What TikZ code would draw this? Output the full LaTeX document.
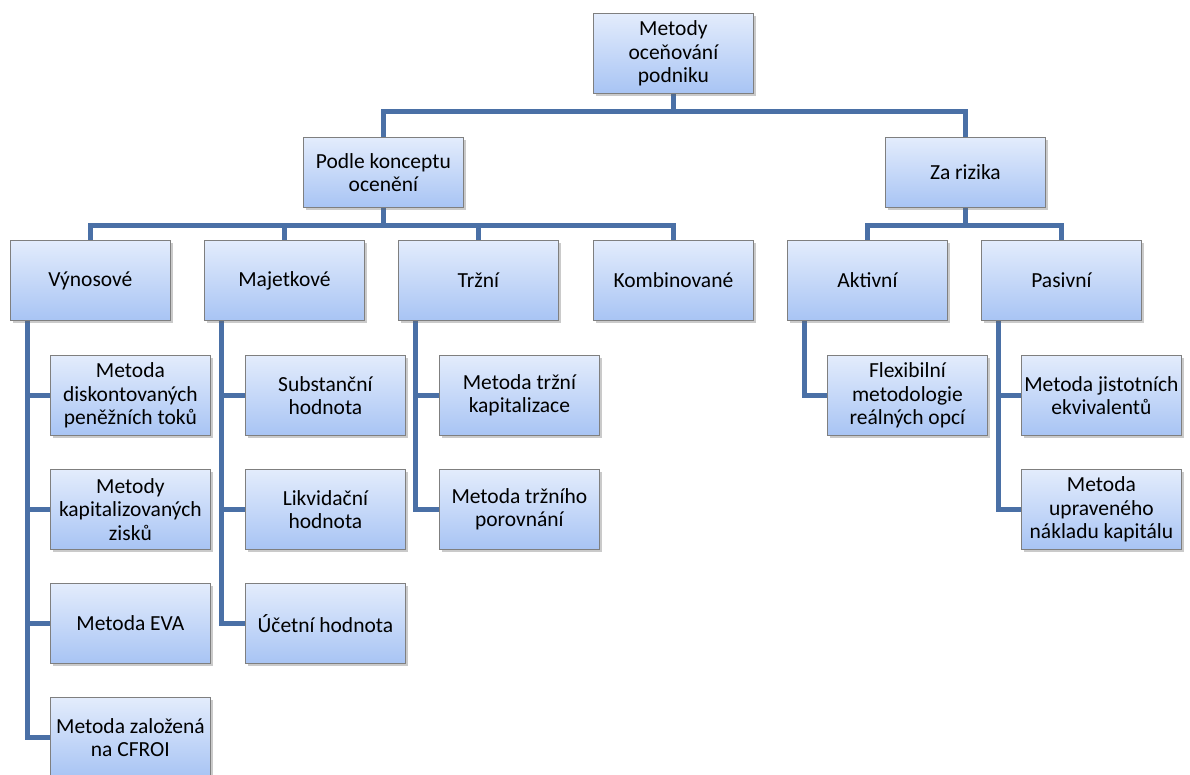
\documentclass[tikz,border=0pt]{standalone}
\usepackage{fontspec}
\setmainfont{Carlito}
\usetikzlibrary{shadows,backgrounds,calc}
\definecolor{boxtop}{HTML}{E3ECFC}
\definecolor{boxbot}{HTML}{A8C4F4}
\definecolor{boxline}{HTML}{7F7F7F}
\definecolor{connclr}{HTML}{4A70A6}
\tikzset{
  orgbox/.style={draw=boxline, line width=0.8pt, top color=boxtop, bottom color=boxbot,
    minimum width=160pt, minimum height=80pt, inner sep=2pt, anchor=north west,
    align=center, font=\fontsize{21.5}{23.5}\selectfont,
    drop shadow={opacity=0.35, shadow xshift=2.5pt, shadow yshift=-2.5pt, fill=black!60}},
  shortbox/.style={orgbox, minimum height=70pt},
  conn/.style={draw=connclr, line width=5pt, line join=miter}
}
\begin{document}
\begin{tikzpicture}[x=1pt,y=1pt]
\useasboundingbox (0,0) rectangle (1190,-774);
% top level
\node[orgbox] (root) at (593,-13) {Metody\\oceňování\\podniku};
\node[shortbox] (podle) at (303,-137) {Podle konceptu\\ocenění};
\node[shortbox] (za) at (885,-137) {Za rizika};
% second level
\node[orgbox] (vyn) at (10,-240) {Výnosové};
\node[orgbox] (maj) at (204,-240) {Majetkové};
\node[orgbox] (trz) at (398,-240) {Tržní};
\node[orgbox] (komb) at (593,-240) {Kombinované};
\node[orgbox] (akt) at (787,-240) {Aktivní};
\node[orgbox] (pas) at (981,-240) {Pasivní};
% income methods
\node[orgbox] (v1) at (50,-355) {Metoda\\diskontovaných\\peněžních toků};
\node[orgbox] (v2) at (50,-469) {Metody\\kapitalizovaných\\zisků};
\node[orgbox] (v3) at (50,-583) {Metoda EVA};
\node[orgbox] (v4) at (50,-697) {Metoda založená\\na CFROI};
% asset methods
\node[orgbox] (m1) at (245,-355) {Substanční\\hodnota};
\node[orgbox] (m2) at (245,-469) {Likvidační\\hodnota};
\node[orgbox] (m3) at (245,-583) {Účetní hodnota};
% market methods
\node[orgbox] (t1) at (439,-355) {Metoda tržní\\kapitalizace};
\node[orgbox] (t2) at (439,-469) {Metoda tržního\\porovnání};
% risk methods
\node[orgbox] (a1) at (827,-355) {Flexibilní\\metodologie\\reálných opcí};
\node[orgbox] (p1) at (1021,-355) {Metoda jistotních\\ekvivalentů};
\node[orgbox] (p2) at (1021,-469) {Metoda\\upraveného\\nákladu kapitálu};
\begin{scope}[on background layer]
  % buses
  \coordinate (b1) at (0,-111);
  \coordinate (b2) at (0,-225);
  \draw[conn] (root.south) -- (root.south |- b1);
  \draw[conn] (podle.north) |- (root.south |- b1) -| (za.north);
  \draw[conn] (podle.south) -- (podle.south |- b2);
  \draw[conn] (vyn.north) |- (komb.north |- b2) -- (komb.north);
  \draw[conn] (maj.north) -- (maj.north |- b2);
  \draw[conn] (trz.north) -- (trz.north |- b2);
  \draw[conn] (za.south) -- (za.south |- b2);
  \draw[conn] (akt.north) |- (pas.north |- b2) -- (pas.north);
  % child spines
  \coordinate (sv) at ($(vyn.south west)+(17,0)$);
  \coordinate (sm) at ($(maj.south west)+(17,0)$);
  \coordinate (st) at ($(trz.south west)+(17,0)$);
  \coordinate (sa) at ($(akt.south west)+(17,0)$);
  \coordinate (sp) at ($(pas.south west)+(17,0)$);
  \draw[conn] (sv) |- (v4.west);
  \draw[conn] (v1.west) -- (v1.west -| sv);
  \draw[conn] (v2.west) -- (v2.west -| sv);
  \draw[conn] (v3.west) -- (v3.west -| sv);
  \draw[conn] (sm) |- (m3.west);
  \draw[conn] (m1.west) -- (m1.west -| sm);
  \draw[conn] (m2.west) -- (m2.west -| sm);
  \draw[conn] (st) |- (t2.west);
  \draw[conn] (t1.west) -- (t1.west -| st);
  \draw[conn] (sa) |- (a1.west);
  \draw[conn] (sp) |- (p2.west);
  \draw[conn] (p1.west) -- (p1.west -| sp);
\end{scope}
\end{tikzpicture}
\end{document}
